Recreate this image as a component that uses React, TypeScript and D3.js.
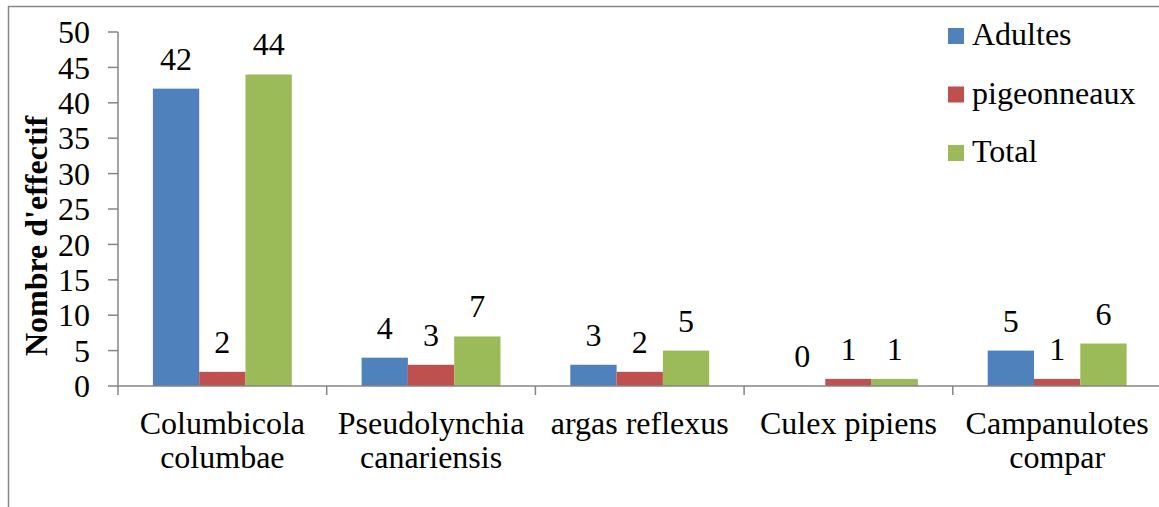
import React from "react";
import * as d3 from "d3";

const categories = [
  ["Columbicola", "columbae"],
  ["Pseudolynchia", "canariensis"],
  ["argas reflexus"],
  ["Culex pipiens"],
  ["Campanulotes", "compar"],
];
const seriesNames = ["Adultes", "pigeonneaux", "Total"];
const adultes = [42, 4, 3, 0, 5];
const pigeonneaux = [2, 3, 2, 1, 1];
const total = [44, 7, 5, 1, 6];
const yTicks = [0, 5, 10, 15, 20, 25, 30, 35, 40, 45, 50];
const colors = ["#4F81BD", "#C0504D", "#9BBB59"];

const W = 1159;
const H = 507;
const FONT = '"Liberation Serif", "Times New Roman", Tinos, "DejaVu Serif", serif';
const FS = 32;
const GREY = "#868686";

export default function App() {
  const values = [adultes, pigeonneaux, total];
  const catKeys = categories.map((c) => c.join(" "));
  const x0 = d3.scaleBand().domain(catKeys).range([118, 1161.5]).padding(0);
  const x1 = d3
    .scaleBand()
    .domain(seriesNames)
    .range([0, x0.bandwidth()])
    .paddingInner(0)
    .paddingOuter(0.754);
  const y = d3.scaleLinear().domain([0, 50]).range([386, 32]);
  const ts: React.CSSProperties = { fontFamily: FONT, fontSize: FS };

  return (
    <svg
      width={W}
      height={H}
      style={{ position: "absolute", left: 0, top: 0, background: "#fff", fontFamily: FONT }}
    >
      {/* chart border */}
      <line x1={8} y1={6.5} x2={W} y2={6.5} stroke={GREY} strokeWidth={1.5} />
      <line x1={8.5} y1={6} x2={8.5} y2={H} stroke={GREY} strokeWidth={1.5} />

      {/* bars */}
      {catKeys.map((ck, ci) =>
        seriesNames.map((s, si) => {
          const v = values[si][ci];
          const bx = (x0(ck) as number) + (x1(s) as number);
          return (
            <rect
              key={ck + s}
              x={bx}
              y={y(v)}
              width={x1.bandwidth()}
              height={y(0) - y(v)}
              fill={colors[si]}
            />
          );
        })
      )}

      {/* y axis */}
      <line x1={118} y1={y(50)} x2={118} y2={y(0)} stroke={GREY} strokeWidth={1.5} />
      {yTicks.map((t) => (
        <g key={t}>
          <line x1={108} y1={y(t)} x2={118} y2={y(t)} stroke={GREY} strokeWidth={1.5} />
          <text x={90} y={y(t)} dy="0.35em" textAnchor="end" style={ts} fill="#000">
            {t}
          </text>
        </g>
      ))}

      {/* x axis */}
      <line x1={118} y1={y(0)} x2={W} y2={y(0)} stroke={GREY} strokeWidth={1.5} />
      {catKeys.map((ck) => (
        <line
          key={"t" + ck}
          x1={x0(ck) as number}
          y1={y(0)}
          x2={x0(ck) as number}
          y2={y(0) + 9}
          stroke={GREY}
          strokeWidth={1.5}
        />
      ))}
      {categories.map((lines, ci) => {
        const cx = (x0(catKeys[ci]) as number) + x0.bandwidth() / 2;
        return (
          <text key={"c" + ci} textAnchor="middle" style={ts} fill="#000">
            {lines.map((ln, li) => (
              <tspan key={li} x={cx} y={434 + li * 34}>
                {ln}
              </tspan>
            ))}
          </text>
        );
      })}

      {/* data labels */}
      {catKeys.map((ck, ci) =>
        seriesNames.map((s, si) => {
          const v = values[si][ci];
          const cx = (x0(ck) as number) + (x1(s) as number) + x1.bandwidth() / 2;
          return (
            <text key={"l" + ck + s} x={cx} y={y(v) - 19} textAnchor="middle" style={ts} fill="#000">
              {v}
            </text>
          );
        })
      )}

      {/* y title */}
      <text
        transform={`translate(47,236) rotate(-90)`}
        textAnchor="middle"
        style={{ ...ts, fontWeight: "bold" }}
        fill="#000"
      >
        Nombre d'effectif
      </text>

      {/* legend */}
      {seriesNames.map((s, i) => (
        <g key={"lg" + s} transform={`translate(948, ${28 + i * 58.5})`}>
          <rect x={0} y={0} width={16} height={16} fill={colors[i]} />
          <text x={24} y={17} style={ts} fill="#000">
            {s}
          </text>
        </g>
      ))}
    </svg>
  );
}
